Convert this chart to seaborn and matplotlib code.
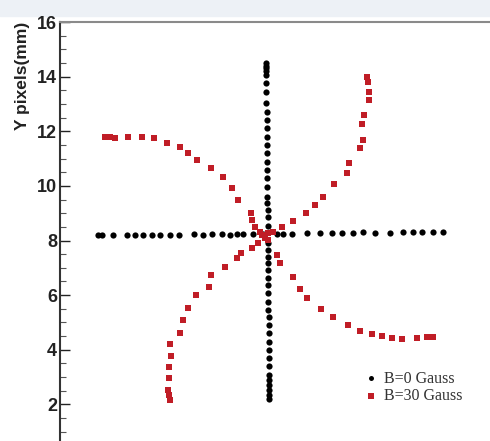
import numpy as np
import pandas as pd
import matplotlib
matplotlib.use("Agg")
import matplotlib.pyplot as plt
from matplotlib.patches import Rectangle
from matplotlib.ticker import MultipleLocator
import seaborn as sns

# Electron beam spot positions (mm) with and without magnetic field
b0_x = [1.39, 1.54, 1.94, 2.45, 2.75, 3.04, 3.37, 3.66, 4.03, 4.36, 4.91, 5.24,
        5.57, 5.93, 6.23, 6.48, 6.70, 7.07, 7.44, 7.95, 8.17, 8.50, 9.05, 9.52,
        9.96, 10.33, 10.73, 11.10, 11.54, 12.09, 12.56, 12.93, 13.26, 13.66, 14.03]
b0_y = [8.19, 8.20, 8.20, 8.19, 8.20, 8.20, 8.21, 8.20, 8.21, 8.20, 8.22, 8.21,
        8.22, 8.22, 8.21, 8.23, 8.22, 8.22, 8.23, 8.24, 8.25, 8.25, 8.26, 8.27,
        8.27, 8.28, 8.29, 8.30, 8.28, 8.29, 8.30, 8.31, 8.30, 8.31, 8.31]

b0_vx = [7.55, 7.55, 7.55, 7.55, 7.56, 7.56, 7.56, 7.56, 7.57, 7.57, 7.57, 7.57,
         7.58, 7.58, 7.58, 7.58, 7.59, 7.59, 7.59, 7.59, 7.60, 7.60, 7.60, 7.61,
         7.61, 7.61, 7.62, 7.62, 7.62, 7.63, 7.63, 7.63, 7.63, 7.64, 7.64, 7.64,
         7.64, 7.65, 7.65, 7.65, 7.65, 7.66, 7.66, 7.66, 7.66, 7.67]
b0_vy = [14.50, 14.39, 14.32, 14.21, 14.06, 13.77, 13.44, 13.03, 12.70, 12.41,
         12.12, 11.79, 11.49, 11.20, 10.87, 10.58, 10.29, 9.96, 9.59, 9.38, 9.11,
         8.86, 8.53, 7.90, 7.65, 7.39, 7.17, 6.92, 6.62, 6.37, 6.07, 5.74, 5.45,
         5.19, 4.90, 4.61, 4.28, 3.99, 3.69, 3.40, 3.07, 2.89, 2.70, 2.52, 2.34, 2.19]

b30_x = [1.65, 1.83, 2.01, 2.49, 3.00, 3.44, 3.92, 4.40, 4.69, 5.02, 5.53, 5.97,
         6.30, 6.52, 7.00, 7.03, 7.14,
         11.25, 11.28, 11.32, 11.32, 11.14, 11.06, 11.10, 10.99, 10.59, 10.51,
         10.04, 9.63, 9.34, 9.01, 8.53, 8.13, 7.80,
         4.03, 3.99, 3.96, 3.99, 3.99, 4.07, 4.03, 4.40, 4.51, 4.69, 4.98, 5.46,
         5.53, 6.04, 6.48, 6.63, 7.03, 7.25,
         7.62, 7.95, 8.06, 8.53, 8.79, 9.05, 9.56, 10.00, 10.55, 10.99, 11.43,
         11.79, 12.16, 12.53, 13.08, 13.44, 13.66,
         7.40, 7.51, 7.33, 7.62]
b30_y = [11.79, 11.79, 11.75, 11.79, 11.79, 11.75, 11.57, 11.42, 11.20, 10.95,
         10.65, 10.32, 9.92, 9.48, 9.00, 8.75, 8.49,
         13.99, 13.80, 13.44, 13.14, 12.59, 12.26, 11.68, 11.38, 10.84, 10.47,
         10.07, 9.59, 9.30, 9.00, 8.71, 8.49, 8.31,
         2.15, 2.34, 2.52, 2.96, 3.36, 3.77, 4.21, 4.61, 5.08, 5.52, 6.00, 6.29,
         6.73, 7.03, 7.36, 7.54, 7.72, 7.90,
         8.01, 7.47, 7.17, 6.66, 6.22, 5.89, 5.49, 5.19, 4.90, 4.68, 4.57, 4.50,
         4.42, 4.39, 4.42, 4.46, 4.46,
         8.20, 8.09, 8.31, 8.27]

y_ticks = [2, 4, 6, 8, 10, 12, 14, 16]
label_b0 = "B=0 Gauss"
label_b30 = "B=30 Gauss"

df0 = pd.DataFrame({"x": b0_x + b0_vx, "y": b0_y + b0_vy})
df30 = pd.DataFrame({"x": b30_x, "y": b30_y})

sns.set_style("ticks")
plt.rcParams["font.family"] = ["Liberation Sans", "DejaVu Sans"]

fig = plt.figure(figsize=(4.9, 4.41), dpi=100)
fig.patches.append(Rectangle((0, 1 - 16 / 441), 1, 16 / 441,
                             transform=fig.transFigure, color="#edf1f6",
                             zorder=-5))
ax = fig.add_axes([60 / 490, -18 / 441, 437 / 490, 437 / 441])

sns.scatterplot(data=df0, x="x", y="y", ax=ax, color="black", marker="o",
                s=20, linewidth=0, label=label_b0)
sns.scatterplot(data=df30, x="x", y="y", ax=ax, color="#c01d26", marker="s",
                s=24, linewidth=0, label=label_b30)

ax.set_xlim(0, 16)
ax.set_ylim(0, 16)
ax.set_xlabel("")
ax.set_xticks([])
ax.set_yticks(y_ticks)
ax.set_yticklabels([str(v) for v in y_ticks])
ax.yaxis.set_minor_locator(MultipleLocator(0.5))
ax.tick_params(axis="y", which="major", direction="in", length=7, width=1,
               pad=2, labelsize=13, colors="#222222")
ax.tick_params(axis="y", which="minor", direction="in", length=4, width=0.8,
               color="#555555")
for t in ax.get_yticklabels():
    t.set_fontweight("bold")

for side in ("left", "top"):
    ax.spines[side].set_linewidth(1.5)
ax.spines["left"].set_color("#333333")
ax.spines["top"].set_color("#8a8a8a")

ax.set_ylabel("Y pixels(mm)", fontsize=12.5, fontweight="bold", color="#222222")
ax.yaxis.set_label_coords(-0.068, 0.876)

leg = ax.legend(loc="upper left", bbox_to_anchor=(0.675, 0.228), frameon=False,
                handlelength=0.6, handletextpad=0.5, labelspacing=0.1,
                markerscale=0.8, borderpad=0.2,
                prop={"family": "Liberation Serif", "size": 11.5})
for txt in leg.get_texts():
    txt.set_color("#333333")

fig.savefig("out.png", dpi=100)
